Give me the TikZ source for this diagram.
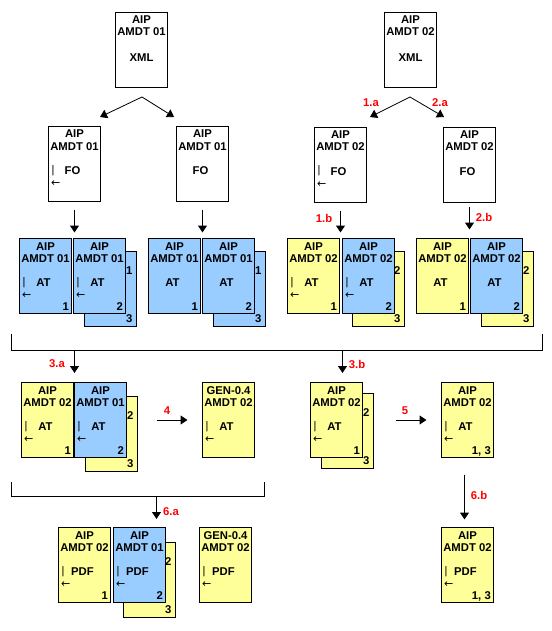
\documentclass[tikz,border=0pt]{standalone}
\usepackage{fontspec}
\setmainfont{Liberation Sans}
\newfontfamily\arrowfont{DejaVu Sans}
\usetikzlibrary{arrows.meta,calc}
\definecolor{pgyellow}{HTML}{FFFF99}
\definecolor{pgblue}{HTML}{99CCFF}
\tikzset{
 pagebox/.style={draw=black,line width=1pt,minimum width=52pt,minimum height=75pt,inner sep=0pt,outer sep=0pt,anchor=north west},
 txt/.style={font=\bfseries\fontsize{11.3}{12}\selectfont,inner sep=0pt,anchor=base},
 bartxt/.style={font=\fontsize{11}{12}\selectfont,inner sep=0pt,anchor=base west},
 arrtxt/.style={font=\arrowfont\fontsize{11}{12}\selectfont,inner sep=0pt,anchor=west},
 steplabel/.style={font=\bfseries\fontsize{11.3}{12}\selectfont,text=red,inner sep=0pt},
 conn/.style={line width=1pt,-{Triangle[length=7pt,width=9pt]}},
 diag/.style={line width=0.8pt,-{Triangle[length=7pt,width=9pt]}},
 bracket/.style={line width=1pt},
}
\newcommand\pg[4]{\node[pagebox,fill=#4] (#1) at (#2+0.5,#3+0.5) {};}
\newcommand\hd[3]{\node[txt] at ($(#1.north)+(0,11.5)$) {#2};\node[txt] at ($(#1.north)+(0,23.5)$) {#3};}
\newcommand\mdb[2]{\node[bartxt] at ($(#1.north west)+(3,46.5)$) {|};\node[txt] at ($(#1.north)+(-2,48)$) {#2};\node[arrtxt] at ($(#1.north west)+(2.5,57)$) {←};}
\newcommand\mdp[2]{\node[txt] at ($(#1.north)+(-2,48)$) {#2};}
\newcommand\nm[2]{\node[txt,anchor=base east] at ($(#1.south east)+(-2.5,-3.5)$) {#2};}
\newcommand\bk[3]{\node[txt,anchor=base east] at ($(#1.north east)+(-4,22.5)$) {#2};\node[txt,anchor=base east] at ($(#1.south east)+(-4,-4)$) {#3};}
\begin{document}
\begin{tikzpicture}[x=1pt,y=-1pt]
\useasboundingbox[fill=white] (0,0) rectangle (551,631);
% ---- top XML pages
\pg{x1}{115}{12}{white}\hd{x1}{AIP}{AMDT 01}\node[txt] at ($(x1.north)+(0,49)$) {XML};
\pg{x2}{384}{12}{white}\hd{x2}{AIP}{AMDT 02}\node[txt] at ($(x2.north)+(0,49)$) {XML};
% ---- FO pages
\pg{f1}{48}{126}{white}\hd{f1}{AIP}{AMDT 01}\mdb{f1}{FO}
\pg{f2}{176}{126}{white}\hd{f2}{AIP}{AMDT 01}\mdp{f2}{FO}
\pg{f3}{314}{127}{white}\hd{f3}{AIP}{AMDT 02}\mdb{f3}{FO}
\pg{f4}{443}{127}{white}\hd{f4}{AIP}{AMDT 02}\mdp{f4}{FO}
% ---- AT row: back pages
\pg{b1}{84}{251}{pgblue}\bk{b1}{1}{3}
\pg{b2}{213}{251}{pgblue}\bk{b2}{1}{3}
\pg{b3}{352}{251}{pgyellow}\bk{b3}{2}{3}
\pg{b4}{481}{251}{pgyellow}\bk{b4}{2}{3}
% ---- AT row: front pages
\pg{a1}{19}{238}{pgblue}\hd{a1}{AIP}{AMDT 01}\mdb{a1}{AT}\nm{a1}{1}
\pg{a2}{73}{238}{pgblue}\hd{a2}{AIP}{AMDT 01}\mdb{a2}{AT}\nm{a2}{2}
\pg{a3}{148}{238}{pgblue}\hd{a3}{AIP}{AMDT 01}\mdp{a3}{AT}\nm{a3}{1}
\pg{a4}{202}{238}{pgblue}\hd{a4}{AIP}{AMDT 01}\mdp{a4}{AT}\nm{a4}{2}
\pg{a5}{287}{238}{pgyellow}\hd{a5}{AIP}{AMDT 02}\mdb{a5}{AT}\nm{a5}{1}
\pg{a6}{342}{238}{pgblue}\hd{a6}{AIP}{AMDT 02}\mdb{a6}{AT}\nm{a6}{2}
\pg{a7}{416}{238}{pgyellow}\hd{a7}{AIP}{AMDT 02}\mdp{a7}{AT}\nm{a7}{1}
\pg{a8}{470}{238}{pgblue}\hd{a8}{AIP}{AMDT 02}\mdp{a8}{AT}\nm{a8}{2}
% ---- row 3
\pg{cb1}{85}{396}{pgyellow}\bk{cb1}{2}{3}
\pg{c1}{21}{382}{pgyellow}\hd{c1}{AIP}{AMDT 02}\mdb{c1}{AT}\nm{c1}{1}
\pg{c2}{74}{382}{pgblue}\hd{c2}{AIP}{AMDT 01}\mdb{c2}{AT}\nm{c2}{2}
\pg{g1}{202}{382}{pgyellow}\hd{g1}{GEN-0.4}{AMDT 02}\mdb{g1}{AT}
\pg{cb3}{321}{393}{pgyellow}\bk{cb3}{2}{3}
\pg{c3}{310}{382}{pgyellow}\hd{c3}{AIP}{AMDT 02}\mdb{c3}{AT}\nm{c3}{1}
\pg{r1}{441}{382}{pgyellow}\hd{r1}{AIP}{AMDT 02}\mdb{r1}{AT}\nm{r1}{1, 3}
% ---- row 4
\pg{db2}{123}{542}{pgyellow}\bk{db2}{2}{3}
\pg{d1}{58}{527}{pgyellow}\hd{d1}{AIP}{AMDT 02}\mdb{d1}{PDF}\nm{d1}{1}
\pg{d2}{113}{527}{pgblue}\hd{d2}{AIP}{AMDT 01}\mdb{d2}{PDF}\nm{d2}{2}
\pg{g2}{199}{527}{pgyellow}\hd{g2}{GEN-0.4}{AMDT 02}\mdb{g2}{PDF}
\pg{r2}{441}{527}{pgyellow}\hd{r2}{AIP}{AMDT 02}\mdb{r2}{PDF}\nm{r2}{1, 3}
% ---- connectors top
\coordinate (apL) at (142,97);
\coordinate (apR) at (410,97);
\coordinate (tL1) at (100,117);
\coordinate (tL2) at (174,117);
\coordinate (tR1) at (370,117);
\coordinate (tR2) at (444,117);
\draw[diag] (apL) -- (tL1);
\draw[diag] (apL) -- (tL2);
\draw[diag] (apR) -- (tR1);
\draw[diag] (apR) -- (tR2);
\node[steplabel] at (371,103) {1.a};
\node[steplabel] at (440,103) {2.a};
% FO -> AT
\draw[conn] ($(f1.south)+(0,8)$) -- ($(f1.south)+(0,31)$);
\draw[conn] ($(f2.south)+(0,8)$) -- ($(f2.south)+(0,31)$);
\draw[conn] ($(f3.south)+(0,8)$) -- ($(f3.south)+(0,30)$);
\draw[conn] ($(f4.south)+(0,4)$) -- ($(f4.south)+(0,27)$);
\node[steplabel] at (324,218) {1.b};
\node[steplabel] at (484,217) {2.b};
% bracket 1
\coordinate (k1a) at (11.5,334);
\coordinate (k1b) at (11.5,350.5);
\coordinate (k1c) at (542.5,350.5);
\coordinate (k1d) at (542.5,334);
\draw[bracket] (k1a) -- (k1b) -- (k1c) -- (k1d);
\coordinate (s3a) at (74.5,350.5);
\coordinate (e3a) at (74.5,373);
\coordinate (s3b) at (342.5,350.5);
\coordinate (e3b) at (342.5,373);
\draw[conn] (s3a) -- (e3a);
\draw[conn] (s3b) -- (e3b);
\node[steplabel] at (57,364) {3.a};
\node[steplabel] at (357,364) {3.b};
% arrows 4 and 5
\draw[conn] ($(c2.east)+(30,0)$) -- ($(g1.west)+(-15,0)$);
\node[steplabel] at (167,411) {4};
\draw[conn] ($(c3.east)+(33,0)$) -- ($(r1.west)+(-15,0)$);
\node[steplabel] at (405,411) {5};
% bracket 2
\coordinate (k2a) at (11.5,482);
\coordinate (k2b) at (11.5,496.5);
\coordinate (k2c) at (264.5,496.5);
\coordinate (k2d) at (264.5,482);
\draw[bracket] (k2a) -- (k2b) -- (k2c) -- (k2d);
\coordinate (s6a) at (156.5,496.5);
\coordinate (e6a) at (156.5,519);
\draw[conn] (s6a) -- (e6a);
\node[steplabel] at (171,512) {6.a};
% 6.b
\draw[conn] ($(r1.south)+(-3,17)$) -- ($(r2.north)+(-3,-8)$);
\node[steplabel] at (479,495) {6.b};
\end{tikzpicture}
\end{document}
